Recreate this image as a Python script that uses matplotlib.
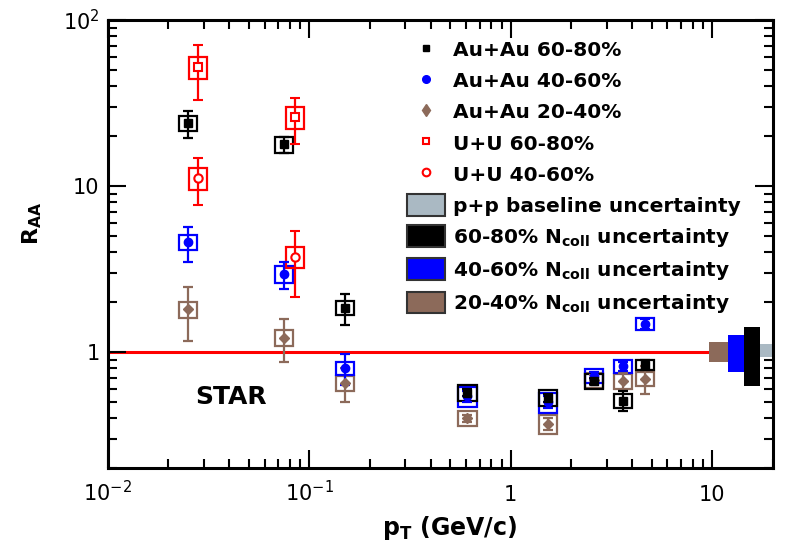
import matplotlib.pyplot as plt
from matplotlib.patches import Rectangle, Patch
from matplotlib.lines import Line2D
from matplotlib.ticker import NullFormatter

plt.rcParams['font.family'] = 'DejaVu Sans'
plt.rcParams['mathtext.fontset'] = 'dejavusans'

# ---- data --------------------------------------------------------------
auau_pt = [0.025, 0.075, 0.15, 0.61, 1.53, 2.58, 3.6, 4.64]
uu_pt = [0.028, 0.085]

auau_6080 = [24.0, 17.8, 1.85, 0.57, 0.53, 0.67, 0.51, 0.84]
auau_6080_stat = [4.5, 2.0, 0.4, 0.03, 0.03, 0.03, 0.07, 0.06]
auau_6080_sys = [2.4, 2.0, 0.18, 0.06, 0.06, 0.07, 0.05, 0.06]

auau_4060 = [4.6, 2.95, 0.80, 0.54, 0.50, 0.72, 0.82, 1.48]
auau_4060_stat = [1.1, 0.55, 0.17, 0.04, 0.04, 0.04, 0.05, 0.1]
auau_4060_sys = [0.47, 0.34, 0.07, 0.075, 0.07, 0.07, 0.07, 0.13]

auau_2040 = [1.81, 1.22, 0.65, 0.40, 0.37, 0.68, 0.67, 0.69]
auau_2040_stat = [0.65, 0.35, 0.15, 0.02, 0.03, 0.05, 0.08, 0.13]
auau_2040_sys = [0.2, 0.13, 0.065, 0.04, 0.05, 0.07, 0.07, 0.07]

uu_6080 = [52.0, 26.0]
uu_6080_stat = [19.0, 8.0]
uu_6080_sys = [8.0, 3.8]

uu_4060 = [11.2, 3.75]
uu_4060_stat = [3.5, 1.6]
uu_4060_sys = [1.7, 0.55]

# normalisation uncertainty boxes at R_AA = 1 (p+p, 60-80, 40-60, 20-40)
norm_xlo = [17.3, 14.4, 12.0, 9.66]
norm_xhi = [20.0, 17.3, 14.4, 12.0]
norm_lo = [0.93, 0.62, 0.76, 0.87]
norm_hi = [1.12, 1.41, 1.26, 1.15]

BROWN = '#8c6a5a'
GREY = '#aab9c3'
BOX_W = 10 ** 0.045


def draw_sys(ax, xs, ys, errs, color):
    for x, y, e in zip(xs, ys, errs):
        ax.add_patch(Rectangle((x / BOX_W, y - e), x * BOX_W - x / BOX_W, 2 * e,
                               fill=False, ec=color, lw=1.6, zorder=3))


fig = plt.figure(figsize=(7.87, 5.49), dpi=100)
ax = fig.add_axes([0.137, 0.1475, 0.845, 0.816])
ax.set_xscale('log')
ax.set_yscale('log')
ax.set_xlim(0.01, 20)
ax.set_ylim(0.2, 100)

ax.axhline(1, color='red', lw=2.2, zorder=1)

# normalisation boxes
norm_cols = [GREY, 'black', 'blue', BROWN]
for x0, x1, lo, hi, c in zip(norm_xlo, norm_xhi, norm_lo, norm_hi, norm_cols):
    ax.add_patch(Rectangle((x0, lo), x1 - x0, hi - lo, fc=c, ec='none', zorder=2))

# systematic boxes
draw_sys(ax, auau_pt, auau_2040, auau_2040_sys, BROWN)
draw_sys(ax, auau_pt, auau_4060, auau_4060_sys, 'blue')
draw_sys(ax, auau_pt, auau_6080, auau_6080_sys, 'black')
draw_sys(ax, uu_pt, uu_6080, uu_6080_sys, 'red')
draw_sys(ax, uu_pt, uu_4060, uu_4060_sys, 'red')

eb = dict(ls='none', elinewidth=1.6, capsize=3.5, capthick=1.6, zorder=4)
ax.errorbar(auau_pt, auau_2040, yerr=auau_2040_stat, marker='D', ms=5, color=BROWN, **eb)
ax.errorbar(auau_pt, auau_4060, yerr=auau_4060_stat, marker='o', ms=6, color='blue', **eb)
ax.errorbar(auau_pt, auau_6080, yerr=auau_6080_stat, marker='s', ms=5.5, color='black', **eb)
ax.errorbar(uu_pt, uu_6080, yerr=uu_6080_stat, marker='s', ms=5.5, color='red',
            mfc='white', mew=1.5, **eb)
ax.errorbar(uu_pt, uu_4060, yerr=uu_4060_stat, marker='o', ms=6, color='red',
            mfc='white', mew=1.5, **eb)

# axes style
for s in ax.spines.values():
    s.set_linewidth(2.2)
ax.tick_params(which='both', direction='in', top=True, right=True, width=1.5)
ax.tick_params(which='major', length=13, labelsize=15)
ax.tick_params(which='minor', length=6.5)
ax.tick_params(axis='x', which='major', pad=24)
ax.tick_params(axis='y', which='major', pad=6)
ax.set_xticks([0.01, 0.1, 1, 10])
ax.set_xticklabels(['$10^{-2}$', '$10^{-1}$', '1', '10'], va='baseline')
ax.set_yticks([1, 10, 100])
ax.set_yticklabels(['1', '10', '$10^{2}$'])
ax.xaxis.set_minor_formatter(NullFormatter())
ax.yaxis.set_minor_formatter(NullFormatter())

ax.set_xlabel(r'p$_{\mathbf{T}}$ (GeV/c)', fontsize=17, fontweight='bold')
ax.set_ylabel(r'R$_{\mathbf{AA}}$', fontsize=16, fontweight='bold')
ax.xaxis.set_label_coords(0.514, -0.103)
ax.yaxis.set_label_coords(-0.096, 0.547)

ax.text(0.185, 0.158, 'STAR', transform=ax.transAxes, fontsize=18,
        fontweight='bold', ha='center', va='center')

handles = [
    Line2D([], [], marker='s', color='black', ls='none', ms=5),
    Line2D([], [], marker='o', color='blue', ls='none', ms=5.5),
    Line2D([], [], marker='d', color=BROWN, ls='none', ms=6),
    Line2D([], [], marker='s', color='red', mfc='white', mew=1.5, ls='none', ms=5),
    Line2D([], [], marker='o', color='red', mfc='white', mew=1.5, ls='none', ms=5.5),
    Patch(fc=GREY, ec='#333333', lw=1.5),
    Patch(fc='black', ec='#333333', lw=1.5),
    Patch(fc='blue', ec='#333333', lw=1.5),
    Patch(fc=BROWN, ec='#333333', lw=1.5),
]
labels = ['Au+Au 60-80%', 'Au+Au 40-60%', 'Au+Au 20-40%', 'U+U 60-80%', 'U+U 40-60%',
          'p+p baseline uncertainty',
          r'60-80% N$_{\mathbf{coll}}$ uncertainty',
          r'40-60% N$_{\mathbf{coll}}$ uncertainty',
          r'20-40% N$_{\mathbf{coll}}$ uncertainty']
ax.legend(handles, labels, loc='upper left', bbox_to_anchor=(0.4496, 0.958),
          frameon=False, borderpad=0, borderaxespad=0, handlelength=1.9,
          handleheight=1.25, handletextpad=0.4, labelspacing=0.48,
          prop={'size': 14.5, 'weight': 'bold'})

fig.savefig('out.png', dpi=100)
